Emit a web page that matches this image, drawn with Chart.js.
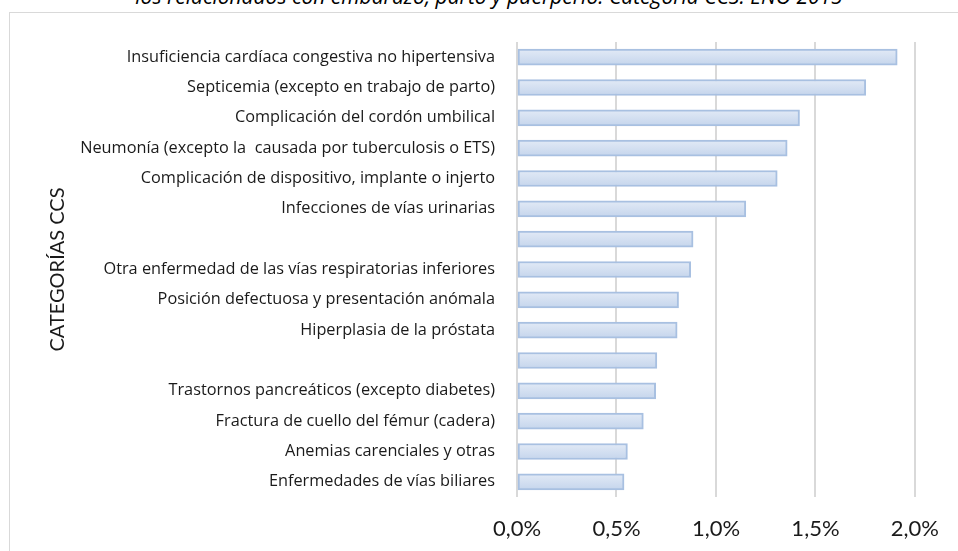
<!DOCTYPE html>
<html><head><meta charset="utf-8">
<script src="https://cdn.jsdelivr.net/npm/chart.js@4/dist/chart.umd.min.js"></script>
<style>
html,body{margin:0;padding:0;background:#fff;overflow:hidden;}
body{width:958px;height:551px;position:relative;}
#frame{position:absolute;left:9px;top:12px;width:980px;height:600px;border:1px solid #d9d9d9;box-sizing:border-box;}
#title{position:absolute;left:10px;width:958px;top:-14px;text-align:center;font:italic 21px "Open Sans";color:#000;line-height:21px;white-space:nowrap;}
#wrap{position:absolute;left:0;top:0;width:958px;height:551px;}
</style></head>
<body>
<div id="frame"></div>
<div id="title">los relacionados con embarazo, parto y puerperio. Categoría CCS. ENO 2015</div>
<div id="wrap"><canvas id="c"></canvas></div>
<script>
const categories = [
  'Insuficiencia cardíaca congestiva no hipertensiva',
  'Septicemia (excepto en trabajo de parto)',
  'Complicación del cordón umbilical',
  'Neumonía (excepto la  causada por tuberculosis o ETS)',
  'Complicación de dispositivo, implante o injerto',
  'Infecciones de vías urinarias',
  '',
  'Otra enfermedad de las vías respiratorias inferiores',
  'Posición defectuosa y presentación anómala',
  'Hiperplasia de la próstata',
  '',
  'Trastornos pancreáticos (excepto diabetes)',
  'Fractura de cuello del fémur (cadera)',
  'Anemias carenciales y otras',
  'Enfermedades de vías biliares'
];
const values = [1.911, 1.753, 1.420, 1.358, 1.308, 1.150, 0.885, 0.873, 0.812, 0.805, 0.703, 0.697, 0.635, 0.555, 0.538];
const xTickLabels = ['0,0%', '0,5%', '1,0%', '1,5%', '2,0%'];
const yAxisTitle = 'CATEGORÍAS CCS';

function barFill(c) {
  const chart = c.chart;
  const ys = chart.scales && chart.scales.y;
  if (!chart.chartArea || !ys || c.dataIndex === undefined) return '#d3dff1';
  const cy = ys.getPixelForValue(c.dataIndex);
  const g = chart.ctx.createLinearGradient(0, cy - 8, 0, cy + 8);
  g.addColorStop(0, '#e2eaf6');
  g.addColorStop(1, '#c5d5ec');
  return g;
}

new Chart(document.getElementById('c'), {
  type: 'bar',
  data: {
    labels: categories,
    datasets: [{
      data: values,
      backgroundColor: barFill,
      borderColor: '#a8c0e1',
      borderWidth: 2,
      borderSkipped: false,
      barThickness: 16
    }]
  },
  options: {
    indexAxis: 'y',
    responsive: true,
    maintainAspectRatio: false,
    animation: false,
    layout: { padding: { top: 42, right: 41, bottom: 0, left: 0 } },
    plugins: { legend: { display: false }, tooltip: { enabled: false }, title: { display: false } },
    scales: {
      x: {
        min: 0, max: 2.0,
        ticks: {
          stepSize: 0.5,
          padding: 19,
          color: '#1a1a1a',
          font: { family: 'Lato', size: 22 },
          callback: (v, i) => xTickLabels[i]
        },
        grid: { color: '#d9d9d9', lineWidth: 2, drawTicks: false },
        border: { display: false },
        afterFit: (s) => { s.height = 54; }
      },
      y: {
        ticks: {
          padding: 22,
          color: '#1a1a1a',
          font: { family: 'Open Sans', size: 16.3 },
          autoSkip: false
        },
        grid: { display: false, drawTicks: false },
        border: { display: false },
        title: {
          display: true,
          text: yAxisTitle,
          color: '#1a1a1a',
          font: { family: 'Lato', size: 20 },
          padding: { top: 46, bottom: 0 }
        },
        afterFit: (s) => { s.width = 517; }
      }
    }
  }
});
</script>
</body></html>
